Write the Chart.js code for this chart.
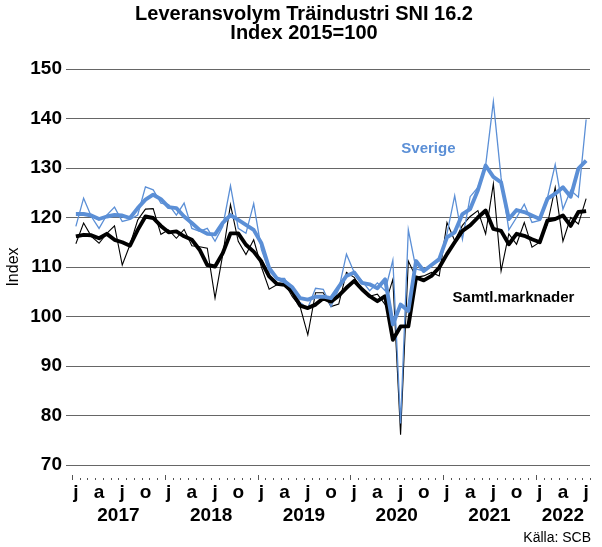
<!DOCTYPE html>
<html>
<head>
<meta charset="utf-8">
<script src="https://cdn.jsdelivr.net/npm/chart.js@4/dist/chart.umd.min.js"></script>
<style>
  html, body { margin: 0; padding: 0; background: #fff; }
  canvas { display: block; }
</style>
</head>
<body>
<canvas id="chart" width="602" height="547"></canvas>
<script>
// Leveransvolym, träindustri (SNI 16.2), index 2015=100, monthly Jan 2017 – Jul 2022
const years = [2017, 2018, 2019, 2020, 2021, 2022];
const monthInitials = ['j', 'f', 'm', 'a', 'm', 'j', 'j', 'a', 's', 'o', 'n', 'd'];
const yTicks = [70, 80, 90, 100, 110, 120, 130, 140, 150];
const titleLines = ['Leveransvolym Träindustri SNI 16.2', 'Index 2015=100'];

// Sverige, säsongrensad (thin)
const sverigeSA = [
  118.2, 123.9, 120.2, 117.8, 120.5, 122.1, 119.2, 119.6, 120.5, 126.2, 125.6, 122.9,
  122.6, 120.5, 122.9, 117.8, 117.2, 117.8, 115.2, 118.2, 126.4, 117.8, 116.8, 122.8,
  113.5, 109.1, 107.7, 107.7, 104.7, 102.8, 101.7, 105.7, 105.5, 102.0, 105.5, 112.6,
  108.9, 107.2, 105.2, 106.8, 105.2, 111.4, 78.4, 117.5, 109.6, 109.2, 110.6, 111.2,
  116.7, 124.4, 115.6, 124.2, 126.1, 130.5, 143.4, 128.0, 117.5, 120.0, 122.7, 119.0,
  119.4, 124.0, 130.7, 121.7, 125.5, 124.1, 139.8
];
// Sverige, trend (thick)
const sverigeTrend = [
  120.7, 120.7, 120.4, 119.7, 120.2, 120.5, 120.4, 119.9, 121.9, 123.6, 124.6, 123.7,
  122.1, 121.9, 120.2, 118.9, 117.5, 116.7, 116.6, 118.9, 120.5, 119.5, 118.5, 117.5,
  114.8, 109.8, 107.7, 107.1, 105.9, 103.7, 103.4, 104.0, 104.0, 103.7, 106.0, 108.2,
  108.9, 106.8, 106.5, 105.7, 107.5, 98.4, 102.4, 101.1, 111.2, 109.2, 110.4, 111.6,
  116.0, 117.0, 120.7, 121.7, 125.5, 130.5, 128.2, 127.1, 119.7, 121.5, 121.1, 120.4,
  119.7, 123.8, 124.8, 126.1, 124.2, 129.9, 131.5
];
// Samtliga marknader, säsongrensad (thin)
const samtlSA = [
  114.7, 118.9, 116.2, 114.8, 116.8, 118.3, 110.4, 114.5, 119.5, 121.7, 121.8, 116.6,
  117.5, 115.8, 117.6, 114.3, 114.1, 113.8, 103.7, 112.5, 122.6, 115.2, 112.5, 115.5,
  110.0, 105.5, 106.4, 106.7, 104.0, 102.0, 96.3, 104.8, 104.8, 102.0, 102.5, 108.9,
  107.9, 105.5, 104.1, 104.5, 102.4, 107.5, 76.1, 111.2, 107.9, 108.2, 108.9, 108.2,
  119.0, 115.3, 118.4, 120.2, 121.4, 116.7, 126.8, 109.2, 116.7, 114.6, 119.0, 114.0,
  115.0, 118.7, 126.1, 115.2, 120.0, 118.7, 123.8
];
// Samtliga marknader, trend (thick)
const samtlTrend = [
  116.2, 116.5, 116.4, 115.8, 116.7, 115.5, 115.0, 114.3, 117.5, 120.2, 119.9, 118.3,
  117.0, 117.2, 116.2, 115.5, 113.5, 110.4, 110.1, 112.8, 116.8, 116.8, 114.5, 113.1,
  111.1, 108.1, 106.6, 106.4, 105.0, 102.2, 101.7, 102.4, 103.7, 103.0, 104.2, 105.8,
  107.2, 105.5, 104.1, 103.1, 104.1, 95.3, 98.0, 98.0, 107.9, 107.3, 108.2, 109.9,
  112.6, 115.0, 117.3, 118.4, 120.0, 121.4, 117.7, 117.3, 114.6, 116.7, 116.3, 115.6,
  115.0, 119.4, 119.7, 120.4, 118.3, 121.1, 121.3
];

const BLUE = '#5b8fd6';
const FONT = '"Liberation Sans", Arial, Helvetica, sans-serif';

const months = sverigeSA.map((_, i) =>
  years[Math.floor(i / 12)] + '-' + String(i % 12 + 1).padStart(2, '0'));

// Title, month tick marks, year captions, series names and source line
const decorations = {
  id: 'decorations',
  afterDraw(chart) {
    const { ctx, scales: { x, y } } = chart;
    const step = x.getPixelForValue(1) - x.getPixelForValue(0);
    const base = x.top;
    ctx.save();

    ctx.fillStyle = '#000';
    ctx.textAlign = 'center';
    ctx.textBaseline = 'middle';
    ctx.font = 'bold 20px ' + FONT;
    ctx.fillText(titleLines[0], 304, 14.5);
    ctx.fillText(titleLines[1], 304, 33.5);

    ctx.strokeStyle = '#555';
    ctx.lineWidth = 1;
    for (let i = 0; i <= months.length; i++) {
      const px = Math.round(x.getPixelForValue(i) - step / 2) + 0.5;
      ctx.beginPath();
      ctx.moveTo(px, base + (i % 12 === 0 ? 10 : 13));
      ctx.lineTo(px, base + 15);
      ctx.stroke();
    }

    ctx.font = 'bold 19px ' + FONT;
    years.forEach((yr, k) => {
      const first = k * 12;
      const last = Math.min(first + 11, months.length - 1);
      const cx = (x.getPixelForValue(first) + x.getPixelForValue(last)) / 2;
      ctx.fillText(String(yr), cx, base + 51);
    });

    ctx.font = 'bold 15px ' + FONT;
    ctx.fillStyle = BLUE;
    ctx.fillText('Sverige', x.getPixelForValue(45.6), y.getPixelForValue(133.8));
    ctx.fillStyle = '#000';
    ctx.fillText('Samtl.marknader', x.getPixelForValue(56.6), y.getPixelForValue(103.7));

    ctx.font = '14px ' + FONT;
    ctx.textAlign = 'right';
    ctx.fillText('Källa: SCB', 591, 538);
    ctx.restore();
  }
};

new Chart(document.getElementById('chart'), {
  type: 'line',
  data: {
    labels: months,
    datasets: [
      { label: 'Sverige, trend', data: sverigeTrend, borderColor: BLUE, borderWidth: 3.9,
        borderJoinStyle: 'round' },
      { label: 'Samtl.marknader, trend', data: samtlTrend, borderColor: '#000', borderWidth: 3.9,
        borderJoinStyle: 'round' },
      { label: 'Sverige', data: sverigeSA, borderColor: BLUE, borderWidth: 1.3 },
      { label: 'Samtl.marknader', data: samtlSA, borderColor: '#000', borderWidth: 1.1 }
    ]
  },
  options: {
    responsive: false,
    animation: false,
    devicePixelRatio: 1,
    elements: { point: { radius: 0 }, line: { tension: 0, fill: false } },
    layout: { padding: { left: 0, right: 12, top: 69, bottom: 0 } },
    plugins: {
      legend: { display: false },
      tooltip: { enabled: false },
      title: { display: false }
    },
    scales: {
      x: {
        type: 'category',
        offset: true,
        grid: { display: false },
        border: { display: false },
        ticks: {
          autoSkip: false,
          maxRotation: 0,
          minRotation: 0,
          padding: 8,
          color: '#000',
          font: { family: FONT, size: 19, weight: 'bold' },
          callback: (v, i) => (i % 3 === 0 ? monthInitials[i % 12] : '')
        },
        afterFit: (s) => { s.height = 82; }
      },
      y: {
        min: yTicks[0],
        max: yTicks[yTicks.length - 1],
        afterBuildTicks: (s) => { s.ticks = yTicks.map(v => ({ value: v })); },
        grid: { color: '#666', lineWidth: 1, tickLength: 6, tickColor: '#666' },
        border: { display: false },
        ticks: {
          padding: 4,
          color: '#000',
          font: { family: FONT, size: 19, weight: 'bold' }
        },
        title: {
          display: true,
          text: 'Index',
          color: '#000',
          font: { family: FONT, size: 16 },
          padding: { top: 4, bottom: 0 }
        },
        afterFit: (s) => { s.width = 72; }
      }
    }
  },
  plugins: [decorations]
});
</script>
</body>
</html>
